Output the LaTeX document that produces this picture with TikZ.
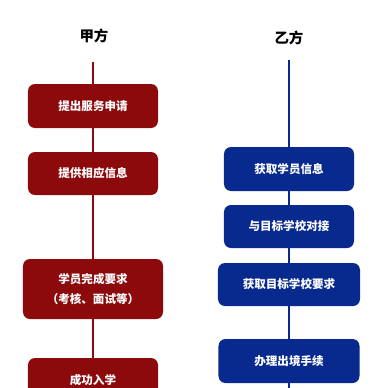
\documentclass[tikz,border=0pt]{standalone}
\usepackage{xcolor}
\usepackage{fontspec}
\setmainfont{Noto Sans CJK SC}
\usepackage{tikz}
\usetikzlibrary{positioning}
\definecolor{jiared}{RGB}{140,10,12}
\definecolor{yiblue}{RGB}{8,42,142}
\tikzstyle{jiabox} = [rectangle, rounded corners=7bp, minimum width=130bp, minimum height=44bp, text centered, draw=none, fill=jiared, text=white]
\tikzstyle{yibox} = [rectangle, rounded corners=7bp, minimum width=130bp, minimum height=44bp, text centered, draw=none, fill=yiblue, text=white]
\tikzstyle{jialine} = [line width=1.5bp, draw=jiared]
\tikzstyle{yiline} = [line width=1.5bp, draw=yiblue]

\begin{document}
\begin{tikzpicture}[
  x=1bp, y=-1bp,
  every node/.style={font=\fontsize{11.6}{20}\selectfont\bfseries, inner sep=1.5pt}
]
\useasboundingbox (0,0) rectangle (391,388);
\clip (0,0) rectangle (391,388);

\node (jia) [font=\fontsize{14.5}{16}\selectfont\bfseries] at (94,36) {甲方};
\node (yi) [font=\fontsize{14.5}{16}\selectfont\bfseries] at (289,38) {乙方};

\coordinate (jtop) at (93,62);
\coordinate (ytop) at (289,60);
\coordinate (ybot) at (289,400);

\node (j1) [jiabox] at (93,106) {提出服务申请};
\node (j2) [jiabox, minimum height=43bp] at (93,173.5) {提供相应信息};
\node (j3) [jiabox, minimum width=140bp, minimum height=60bp, align=center] at (93,289)
  {学员完成要求\\（考核、面试等）};
\node (j4) [jiabox] at (93,380) {成功入学};

\node (y1) [yibox] at (289,169) {获取学员信息};
\node (y2) [yibox, minimum height=43bp] at (289,226.5) {与目标学校对接};
\node (y3) [yibox, minimum width=142bp, minimum height=43bp] at (289,284.5) {获取目标学校要求};
\node (y4) [yibox, minimum width=141bp] at (289,361) {办理出境手续};

\draw [jialine] (jtop) -- (j1);
\draw [jialine] (j1) -- (j2);
\draw [jialine] (j2) -- (j3);
\draw [jialine] (j3) -- (j4);
\draw [yiline] (ytop) -- (y1);
\draw [yiline] (y1) -- (y2);
\draw [yiline] (y2) -- (y3);
\draw [yiline] (y3) -- (y4);
\draw [yiline] (y4) -- (ybot);

\end{tikzpicture}
\end{document}
